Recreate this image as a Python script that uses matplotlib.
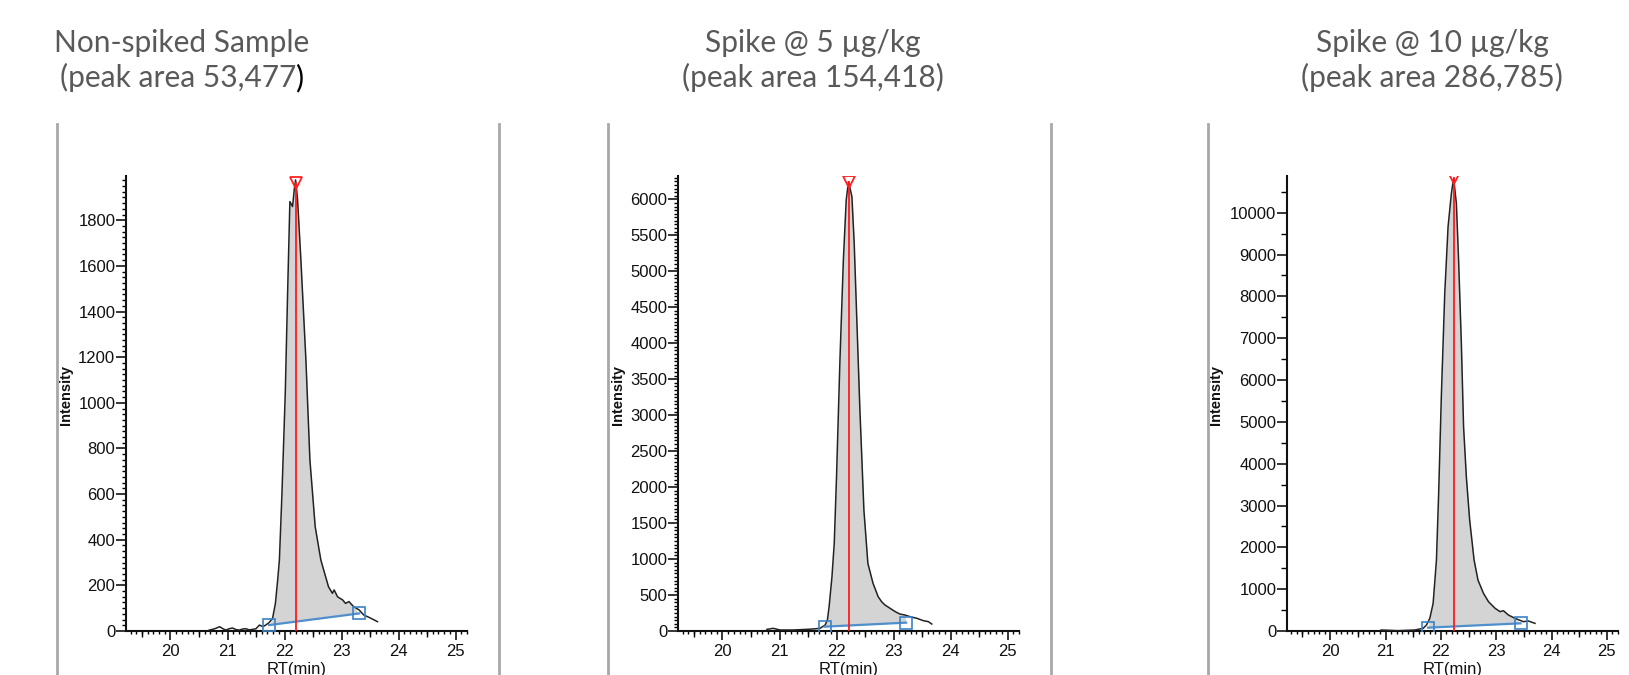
import numpy as np
import matplotlib
matplotlib.use("Agg")
import matplotlib.pyplot as plt
from matplotlib.ticker import MultipleLocator, FixedLocator, NullFormatter
from matplotlib.lines import Line2D

# ---------------- data ----------------
titles_l1 = ["Non-spiked Sample", "Spike @ 5 µg/kg", "Spike @ 10 µg/kg"]
titles_l2 = ["(peak area 53,477", "(peak area 154,418)", "(peak area 286,785)"]

rt1 = [20.68, 20.75, 20.80, 20.86, 20.92, 20.97, 21.03, 21.09, 21.15, 21.21, 21.27,
       21.32, 21.38, 21.44, 21.50, 21.56, 21.62, 21.67, 21.73, 21.79, 21.84, 21.88,
       21.91, 21.955, 22.013, 22.054, 22.094, 22.141, 22.17, 22.194, 22.229, 22.287,
       22.375, 22.445, 22.538, 22.637, 22.771, 22.84, 22.87, 22.93, 23.02, 23.07,
       23.13, 23.21, 23.31, 23.39, 23.48, 23.63]
int1 = [4, 8, 12, 19, 10, 4, 10, 13, 6, 4, 9,
        10, 5, 7, 10, 26, 19, 26, 37, 55, 121, 224,
        311, 603, 1042, 1480, 1882, 1860, 1933, 1977, 1889, 1626,
        1188, 750, 457, 311, 194, 165, 180, 150, 136, 121,
        129, 107, 92, 70, 60, 41]

rt2 = [20.78, 20.89, 21.01, 21.24, 21.48, 21.59, 21.71, 21.80, 21.84, 21.87, 21.92,
       21.96, 22.00, 22.06, 22.12, 22.17, 22.21, 22.27, 22.31, 22.35, 22.41, 22.48,
       22.55, 22.64, 22.73, 22.79, 22.85, 22.94, 23.03, 23.11, 23.20, 23.29, 23.41,
       23.52, 23.61, 23.67]
int2 = [23, 37, 14, 14, 23, 28, 37, 83, 153, 338, 755,
        1218, 2145, 3767, 5157, 5991, 6245, 6037, 5388, 4462, 3072, 1682,
        940, 663, 477, 408, 361, 315, 269, 236, 222, 199, 176,
        144, 130, 97]

rt3 = [20.92, 21.23, 21.53, 21.68, 21.74, 21.80, 21.86, 21.92, 21.96, 22.01, 22.07,
       22.13, 22.19, 22.23, 22.28, 22.32, 22.37, 22.41, 22.46, 22.52, 22.60, 22.67,
       22.77, 22.86, 22.98, 23.07, 23.13, 23.22, 23.34, 23.49, 23.58, 23.70]
int3 = [24, 8, 24, 64, 143, 303, 661, 1697, 3291, 5681, 8072,
        9665, 10462, 10821, 10223, 8868, 6876, 4884, 3689, 2653, 1697, 1219,
        900, 701, 542, 462, 486, 382, 303, 223, 239, 183]

peak_rt = [22.20, 22.21, 22.23]
peak_int = [1965, 6245, 10821]
base_rt = [[21.73, 23.31], [21.79, 23.22], [21.77, 23.44]]
base_int = [[26, 77], [60, 116], [80, 183]]

y_max = [1994, 6324, 10877]
y_major = [200, 500, 1000]
y_minor = [25, 50, 500]
x_lim = (19.22, 25.2)

# ---------------- layout ----------------
W, H = 1629, 675
fig = plt.figure(figsize=(W / 100, H / 100), dpi=100)

ax_px = [(126, 341), (678, 341), (1287, 331)]  # left, width in px
ax_bottom, ax_top = 631, 176
ylabel_off = [53, 53, 64]

tick_font = ["Liberation Sans Narrow", "Liberation Sans", "DejaVu Sans"]
title_font = ["Lato", "Open Sans", "DejaVu Sans"]
title_color = "#595959"
title_cx = [182, 813, 1432]
title_size = 21.5

datasets = [(rt1, int1), (rt2, int2), (rt3, int3)]

for i in range(3):
    left, width = ax_px[i]
    ax = fig.add_axes([left / W, (H - ax_bottom) / H, width / W, (ax_bottom - ax_top) / H])
    rt = np.array(datasets[i][0])
    it = np.array(datasets[i][1])
    b_rt = base_rt[i]
    b_it = base_int[i]

    # integrated area fill
    mask = (rt > b_rt[0]) & (rt < b_rt[1])
    fx = np.concatenate([[b_rt[0]], rt[mask], [b_rt[1]]])
    ftop = np.concatenate([[b_it[0]], it[mask], [b_it[1]]])
    fbot = b_it[0] + (fx - b_rt[0]) * (b_it[1] - b_it[0]) / (b_rt[1] - b_rt[0])
    ax.fill_between(fx, fbot, ftop, color="#d4d4d4", linewidth=0, zorder=1)

    ax.plot(rt, it, color="#222222", linewidth=1.1, zorder=3)
    ax.plot(b_rt, b_it, color="#4f8fcc", linewidth=1.6, zorder=4)
    ax.plot(b_rt, b_it, linestyle="none", marker="s", markersize=8.5,
            markerfacecolor="none", markeredgecolor="#3b82c4", markeredgewidth=1.2, zorder=5)
    ax.plot([peak_rt[i], peak_rt[i]], [0, peak_int[i]], color="#ff1a1a", linewidth=1.3, zorder=4)
    ax.plot([peak_rt[i]], [peak_int[i]], linestyle="none", marker="v", markersize=8.5,
            markerfacecolor="none", markeredgecolor="#ff2020", markeredgewidth=1.3, zorder=6)

    ax.set_xlim(*x_lim)
    ax.set_ylim(0, y_max[i])
    for s in ["top", "right"]:
        ax.spines[s].set_visible(False)
    for s in ["left", "bottom"]:
        ax.spines[s].set_linewidth(1.5)
        ax.spines[s].set_color("#111111")

    ax.xaxis.set_major_locator(MultipleLocator(1))
    ax.xaxis.set_minor_locator(MultipleLocator(0.1))
    ax.yaxis.set_major_locator(MultipleLocator(y_major[i]))
    ax.yaxis.set_minor_locator(MultipleLocator(y_minor[i]))
    ax.tick_params(axis="x", which="major", length=6.5, width=1.1, pad=2.5, direction="out")
    ax.tick_params(axis="x", which="minor", length=2.5, width=1.0, direction="out")
    ax.tick_params(axis="y", which="major", length=7.2, width=1.1, pad=0.5, direction="out")
    ax.tick_params(axis="y", which="minor", length=3.0 if i < 2 else 4.5, width=1.0, direction="out")

    # medium ticks at half minutes
    sec = ax.secondary_xaxis("bottom")
    sec.xaxis.set_major_locator(FixedLocator(np.arange(19.5, 25.6, 1.0)))
    sec.xaxis.set_major_formatter(NullFormatter())
    sec.tick_params(length=4.5, width=1.0)
    sec.spines["bottom"].set_visible(False)

    for lab in ax.get_xticklabels() + ax.get_yticklabels():
        lab.set_family(tick_font)
        lab.set_fontsize(12)
        lab.set_color("#111111")

    ax.set_xlabel("RT(min)", family=tick_font, fontsize=12, color="#111111", labelpad=2.5)
    ax.set_ylabel("Intensity", family=["Liberation Sans", "DejaVu Sans"], fontsize=10.5,
                  fontweight="bold", color="#111111")
    ax.yaxis.set_label_coords(-ylabel_off[i] / width, 0.519)

    # titles
    fig.text(title_cx[i] / W, 1 - 52 / H, titles_l1[i], ha="center", va="baseline",
             family=title_font, fontsize=title_size, color=title_color)
    cx2 = title_cx[i] - (4 if i == 0 else 0)
    t2 = fig.text(cx2 / W, 1 - 87 / H, titles_l2[i],
                  ha="center", va="baseline", family=title_font, fontsize=title_size,
                  color=title_color)
    if i == 0:
        ax.annotate(")", xy=(1, 0), xycoords=t2, ha="left", va="bottom",
                    family=title_font, fontsize=title_size, color="black",
                    annotation_clip=False)

# separator lines of the original screenshot panels
for xpx in [57, 499, 608, 1051, 1208]:
    fig.add_artist(Line2D([xpx / W, xpx / W], [0, 1 - 124 / H], color="#a8a8a8",
                          linewidth=2.0, transform=fig.transFigure))

fig.savefig("out.png", dpi=100, facecolor="white")
